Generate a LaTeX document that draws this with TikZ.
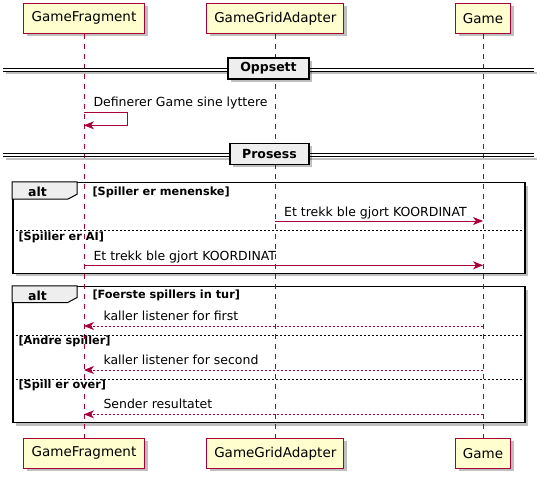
\documentclass[tikz,border=0pt]{standalone}
\usepackage{fontspec}
\setmainfont{DejaVu Sans}
\usepackage{tikz}
\usetikzlibrary{positioning,shapes,arrows.meta,calc,shadows}
\definecolor{umlred}{RGB}{168,0,54}
\definecolor{umlfill}{RGB}{254,254,206}
\definecolor{umlgray}{RGB}{238,238,238}

\begin{document}
\begin{tikzpicture}[x=1pt,y=-1pt,
    shade/.style={drop shadow={shadow xshift=3pt,shadow yshift=-3pt,opacity=0.25,fill=black}},
    actor/.style={draw=umlred,fill=umlfill,line width=1.2pt,minimum height=30pt,inner xsep=0pt,font=\fontsize{13.5}{15}\selectfont,shade},
    life/.style={draw=umlred,line width=0.8pt,dash pattern=on 5pt off 5pt},
    msg/.style={draw=umlred,line width=0.8pt,-{Stealth[length=10pt,width=8pt,inset=3pt]}},
    ret/.style={msg,dash pattern=on 2pt off 2pt},
    txt/.style={anchor=west,inner sep=0pt,font=\fontsize{12.5}{14}\selectfont},
    guard/.style={anchor=west,inner sep=0pt,font=\fontsize{11.3}{13}\selectfont\bfseries},
    divbox/.style={draw,fill=umlgray,line width=1.5pt,minimum height=21pt,inner sep=0pt,font=\fontsize{12.5}{14}\selectfont\bfseries,shade},
    frame/.style={draw,fill=white,line width=1.5pt,inner sep=0pt,shade},
    tab/.style={draw,fill=umlgray,line width=1pt},
    elseline/.style={draw,line width=0.6pt,dash pattern=on 2pt off 2pt}
  ]
    \useasboundingbox (0,0) rectangle (545,478);

    \node[frame,minimum width=512pt,minimum height=90.6pt] (alt1) at (268.8,228) {};
    \node[frame,minimum width=512pt,minimum height=136pt] (alt2) at (268.8,354.7) {};
    \draw[tab] (alt1.north west) -- ++(65,0) -- ++(0,12.3) -- ++(-9.4,5) -- ($(alt1.north west)+(0,17.3)$) -- cycle;
    \draw[tab] (alt2.north west) -- ++(65,0) -- ++(0,11.6) -- ++(-9.4,5) -- ($(alt2.north west)+(0,16.6)$) -- cycle;
    \node[font=\fontsize{12.5}{14}\selectfont\bfseries,inner sep=0pt] (alt1lbl) at (37.5,192) {alt};
    \node[font=\fontsize{12.5}{14}\selectfont\bfseries,inner sep=0pt] (alt2lbl) at (37.5,296) {alt};

    \node[actor,minimum width=121pt] (gfT) at (84,18.3) {GameFragment};
    \node[actor,minimum width=137pt] (ggaT) at (275.3,18.3) {GameGridAdapter};
    \node[actor,minimum width=55pt] (gT) at (483,18.3) {Game};
    \node[actor,minimum width=121pt] (gfB) at (84,453.3) {GameFragment};
    \node[actor,minimum width=137pt] (ggaB) at (275.3,453.3) {GameGridAdapter};
    \node[actor,minimum width=55pt] (gB) at (483,453.3) {Game};

    \foreach \a/\b in {gfT/gfB,ggaT/ggaB,gT/gB} {
      \draw[life] (\a.south) -- (\b.north);
    }

    \foreach \y in {230,335,379.3} {
      \draw[elseline] (alt1.west |- 0,\y) -- (alt1.east |- 0,\y);
    }

    \foreach \y/\n in {68.5/oppsett,153.8/prosess} {
      \draw[black!25,line width=2pt] (6,\y+5) -- (537,\y+5);
      \draw[line width=0.8pt] (3,\y) -- (534,\y);
      \draw[line width=0.8pt] (3,\y+3) -- (534,\y+3);
    }
    \node[divbox,minimum width=81pt] (oppsett) at (268.5,68.3) {Oppsett};
    \node[divbox,minimum width=79pt] (prosess) at (269.5,153.8) {Prosess};

    \coordinate (s1) at (gfT.south |- 0,112);
    \coordinate (s2) at (127,112);
    \coordinate (s3) at (127,125.3);
    \coordinate (s4) at (gfT.south |- 0,125.3);
    \draw[msg] (s1) -- (s2) -- (s3) -- (s4);
    \node[txt] (t0) at (93.3,103) {Definerer Game sine lyttere};

    \node[guard] (g1) at (92.3,192.7) {[Spiller er menenske]};
    \draw[msg] (ggaT.south |- 0,221) -- (gT.south |- 0,221);
    \node[txt] (t1) at (284,212.7) {Et trekk ble gjort KOORDINAT};
    \node[guard] (g2) at (18.3,237.7) {[Spiller er AI]};
    \draw[msg] (gfT.south |- 0,265.3) -- (gT.south |- 0,265.3);
    \node[txt] (t2) at (93.3,256.7) {Et trekk ble gjort KOORDINAT};

    \node[guard] (g3) at (92.3,295.7) {[Foerste spillers in tur]};
    \draw[ret] (gT.south |- 0,326) -- (gfT.south |- 0,326);
    \node[txt] (t3) at (103.3,316) {kaller listener for first};
    \node[guard] (g4) at (18.3,341.7) {[Andre spiller]};
    \draw[ret] (gT.south |- 0,370) -- (gfT.south |- 0,370);
    \node[txt] (t4) at (103.3,360.3) {kaller listener for second};
    \node[guard] (g5) at (18.3,385) {[Spill er over]};
    \draw[ret] (gT.south |- 0,414.3) -- (gfT.south |- 0,414.3);
    \node[txt] (t5) at (103.3,404.3) {Sender resultatet};
  \end{tikzpicture}
\end{document}
